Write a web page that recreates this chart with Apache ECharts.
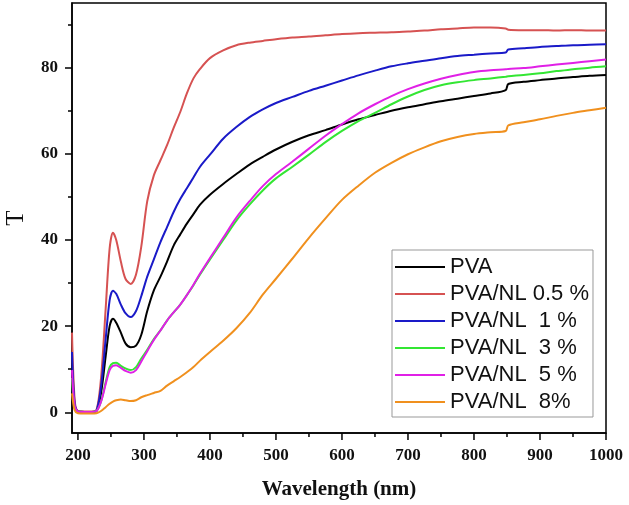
<!DOCTYPE html>
<html>
<head>
<meta charset="utf-8">
<script src="https://cdn.jsdelivr.net/npm/echarts@6/dist/echarts.min.js"></script>
<style>
  html, body { margin: 0; padding: 0; background: #fff; }
  #chart { width: 629px; height: 505px; }
</style>
</head>
<body>
<div id="chart"></div>
<script>
// 波长 (nm)
const wavelength = [191, 195, 200, 210, 220, 228, 235, 242, 248, 253, 258, 265, 272, 280, 288, 296, 305, 315, 325, 335,
  345, 355, 365, 375, 385, 400, 420, 440, 460, 480, 500, 525, 550, 575, 600, 625, 650, 675, 700, 725,
  750, 775, 800, 825, 848, 852, 875, 900, 925, 950, 975, 1000];

// 透过率 T
const pva = [10, 1.5, 0.2, 0.1, 0.1, 0.3, 4.5, 13, 20, 21.7, 20.8, 18.5, 16, 15.1, 15.5, 18, 23.5, 28.3, 31.5, 35,
  38.7, 41.3, 43.8, 46, 48.2, 50.5, 53, 55.3, 57.5, 59.3, 61, 62.8, 64.3, 65.5, 66.8, 68, 69, 70, 70.8, 71.5,
  72.2, 72.8, 73.4, 74, 74.8, 76.2, 76.7, 77.1, 77.5, 77.8, 78.1, 78.3];
const nl05 = [18.5, 3, 0.3, 0.2, 0.2, 0.5, 8, 24, 38, 41.7, 40, 35, 31, 29.8, 32, 38.5, 49, 55, 58.5, 62,
  66, 69.7, 74, 77.5, 79.7, 82.2, 84, 85.2, 85.8, 86.2, 86.6, 87, 87.2, 87.5, 87.8, 88, 88.1, 88.2, 88.4, 88.6,
  88.9, 89.1, 89.3, 89.3, 89.1, 88.8, 88.7, 88.7, 88.6, 88.7, 88.6, 88.6];
const nl1 = [14, 2, 0.2, 0.1, 0.1, 0.4, 6, 17, 26, 28.2, 27.5, 25, 23, 22.1, 23.5, 27, 31.5, 35.5, 39.5, 43,
  46.5, 49.5, 52, 54.5, 57, 59.8, 63.5, 66.2, 68.5, 70.3, 71.8, 73.2, 74.6, 75.8, 77, 78.2, 79.3, 80.3, 81, 81.6,
  82.2, 82.7, 83, 83.3, 83.5, 84.2, 84.5, 84.8, 85, 85.2, 85.3, 85.4];
const nl3 = [8, 1, 0.2, 0.1, 0.1, 0.3, 2.5, 7, 10.5, 11.4, 11.5, 10.8, 10.2, 9.8, 10.5, 12.5, 14.5, 17, 19, 21.3,
  23.2, 25, 27.2, 29.5, 32, 35.5, 40, 44.5, 48.2, 51.5, 54.3, 57, 59.8, 62.7, 65.3, 67.6, 69.5, 71.5, 73.3, 74.8,
  75.9, 76.6, 77.1, 77.5, 77.9, 78, 78.3, 78.7, 79.2, 79.6, 80, 80.3];
const nl5 = [9.8, 1.5, 0.2, 0.1, 0.1, 0.3, 2.5, 6.5, 9.8, 10.8, 10.9, 10.3, 9.6, 9.2, 9.8, 11.8, 14.2, 16.8, 19, 21.3,
  23.2, 25, 27.2, 29.6, 32.2, 35.8, 40.5, 45.2, 49, 52.5, 55.3, 58.2, 61.2, 64.2, 66.9, 69.4, 71.5, 73.4, 75, 76.3,
  77.4, 78.3, 79, 79.4, 79.6, 79.7, 79.9, 80.3, 80.7, 81.1, 81.5, 81.9];
const nl8 = [4.4, 0.5, -0.2, -0.3, -0.3, -0.2, 0.3, 1.2, 2, 2.5, 2.8, 3, 2.8, 2.6, 2.8, 3.5, 4, 4.5, 5, 6.2,
  7.2, 8.2, 9.3, 10.5, 12, 14, 16.6, 19.5, 23, 27.3, 31, 35.7, 40.5, 45, 49.3, 52.6, 55.6, 57.9, 59.9, 61.5,
  62.9, 63.9, 64.6, 65, 65.3, 66.6, 67.3, 68, 68.8, 69.5, 70.1, 70.7];

const seriesNames = ['PVA', 'PVA/NL 0.5 %', 'PVA/NL  1 %', 'PVA/NL  3 %', 'PVA/NL  5 %', 'PVA/NL  8%'];
const seriesValues = [pva, nl05, nl1, nl3, nl5, nl8];
const seriesColors = ['#000000', '#d65252', '#1a1ac8', '#33e633', '#e020e6', '#f0901e'];

// 刻度
const xMajorTicks = [200, 300, 400, 500, 600, 700, 800, 900, 1000];
const xMinorTicks = [250, 350, 450, 550, 650, 750, 850, 950];
const yMajorTicks = [0, 20, 40, 60, 80];
const yAllTicks = [0, 10, 20, 30, 40, 50, 60, 70, 80, 90];

const X_MIN = 191, X_MAX = 1000, Y_MIN = -4.8, Y_MAX = 95;

const chart = echarts.init(document.getElementById('chart'));

const labelFont = { fontFamily: 'Liberation Serif', fontWeight: 'bold', fontSize: 17, color: '#111' };

// x 轴刻度线: 用散点在 x 轴上画短竖线 (位置经由坐标轴换算)
function xTickSeries(ticks, len) {
  return {
    type: 'scatter',
    silent: true,
    clip: false,
    symbol: 'rect',
    symbolSize: [1.5, len],
    symbolOffset: [0, len / 2],
    itemStyle: { color: '#000', opacity: 1 },
    z: 5,
    data: ticks.map(t => [t, Y_MIN])
  };
}

const option = {
  animation: false,
  grid: {
    left: 72, right: 23, top: 3, bottom: 72,
    outerBoundsMode: 'none',
    show: true, borderColor: '#000', borderWidth: 1.5
  },
  legend: {
    orient: 'vertical',
    left: 392, top: 250,
    data: seriesNames,
    icon: 'rect',
    itemWidth: 50,
    itemHeight: 2,
    itemGap: 5,
    padding: [6, 4, 4, 3],
    borderColor: '#999',
    borderWidth: 1,
    textStyle: { fontFamily: 'Liberation Sans', fontSize: 22, color: '#111' }
  },
  tooltip: { show: false },
  xAxis: {
    type: 'value', min: X_MIN, max: X_MAX,
    name: 'Wavelength (nm)', nameLocation: 'middle', nameGap: 46,
    nameTextStyle: { fontFamily: 'Liberation Serif', fontWeight: 'bold', fontSize: 21, color: '#111' },
    axisLine: { show: true, onZero: false, lineStyle: { color: '#000', width: 1.5 } },
    axisTick: { show: false },
    axisLabel: Object.assign({ margin: 14, customValues: xMajorTicks, formatter: v => String(v) }, labelFont),
    splitLine: { show: false }
  },
  yAxis: [
    {
      type: 'value', min: Y_MIN, max: Y_MAX,
      name: 'T', nameLocation: 'middle', nameGap: 43,
      nameTextStyle: { fontFamily: 'Liberation Serif', fontSize: 25, color: '#111' },
      axisLine: { show: true, onZero: false, lineStyle: { color: '#000', width: 1.5 } },
      axisTick: { show: true, length: 7, customValues: yMajorTicks, lineStyle: { color: '#000', width: 1.5 } },
      axisLabel: Object.assign({ margin: 14, customValues: yMajorTicks, formatter: v => String(v) }, labelFont),
      splitLine: { show: false }
    },
    {
      type: 'value', min: Y_MIN, max: Y_MAX, position: 'left',
      axisLine: { show: false, onZero: false },
      axisLabel: { show: false },
      axisTick: { show: true, length: 4, customValues: yAllTicks, lineStyle: { color: '#000', width: 1.5 } },
      splitLine: { show: false }
    }
  ],
  series: seriesNames.map((name, i) => ({
    name: name,
    type: 'line',
    showSymbol: false,
    smooth: 0.3,
    color: seriesColors[i],
    lineStyle: { width: 2, color: seriesColors[i] },
    data: wavelength.map((w, j) => [w, seriesValues[i][j]])
  })).concat([
    xTickSeries(xMajorTicks, 7),
    xTickSeries(xMinorTicks, 4)
  ])
};

chart.setOption(option);
</script>
</body>
</html>
